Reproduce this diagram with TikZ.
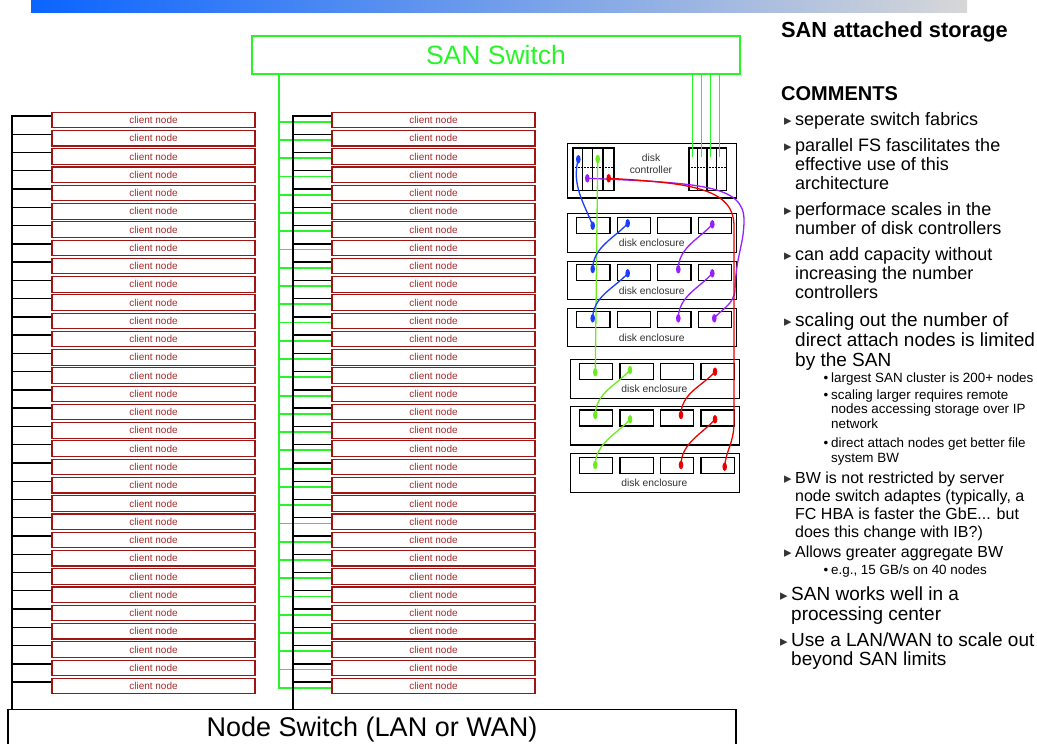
\documentclass[tikz,border=0pt]{standalone}
\usepackage{fontspec}
\setmainfont{Liberation Sans}
\newfontfamily\symfont{DejaVu Sans}
\usetikzlibrary{shapes.geometric,calc}
\definecolor{cnred}{RGB}{160,20,20}
\definecolor{cntext}{RGB}{165,40,40}
\definecolor{sangreen}{RGB}{40,245,40}
\definecolor{limegreen}{RGB}{110,235,30}
\definecolor{fcblue}{RGB}{25,60,255}
\definecolor{fcpurple}{RGB}{150,30,255}
\definecolor{fcred}{RGB}{235,0,0}
\definecolor{bannerblue}{RGB}{10,100,255}
\definecolor{bannergray}{RGB}{215,215,215}
\newcommand\fsz[2]{\fontsize{#1}{#2}\selectfont}
\newcommand\tri{\llap{{\symfont\fsz{15}{15}\textcolor{black!80}{▸}}\hspace{3.5pt}}}
\newcommand\sbul{\llap{•\hspace{3pt}}}
\begin{document}
\begin{tikzpicture}[x=1pt,y=-1pt,
  client/.style={draw=cnred,line width=1.1pt,text=cntext,font=\fsz{10}{11},
    minimum width=203pt,minimum height=15.5pt,inner sep=0pt},
  tickline/.style={line width=1.4pt,black},
  busline/.style={line width=2.4pt,black},
  sanline/.style={line width=1.8pt,sangreen},
  port/.style={draw,line width=1.2pt,inner sep=0pt,anchor=north west,minimum height=42.7pt},
  drive/.style={draw,line width=1.3pt,minimum width=33.3pt,minimum height=16pt,inner sep=0pt,anchor=north west},
  encl/.style={draw,line width=1.1pt,minimum width=168.7pt,minimum height=38.4pt,inner sep=0pt,anchor=north west},
  small/.style={font=\fsz{10.3}{12.3},text=black!80,inner sep=0pt},
  dot/.style={ellipse,fill=#1,minimum width=4.6pt,minimum height=8.5pt,inner sep=0pt},
  fc/.style={line width=1.3pt,#1},
  item/.style={anchor=base west,align=left,inner sep=0pt},
]
\path[use as bounding box] (0,0) rectangle (1037,744);
\clip (0,0) rectangle (1037,744);

% title banner
\shade[left color=bannerblue,right color=bannergray] (31,0) rectangle (967,12);

% switches
\node[draw=sangreen,line width=1.6pt,minimum width=488pt,minimum height=38pt,inner sep=0pt,
  text=sangreen,font=\fsz{26.5}{30}] (san) at (496,55) {SAN Switch};
\node[draw,line width=1.2pt,minimum width=728pt,minimum height=40pt,inner sep=0pt,
  font=\fsz{27}{30},anchor=north] (ns) at (372,709) {Node Switch (LAN or WAN)};

% client nodes with their LAN and SAN taps
\foreach \i in {0,...,31}{
  \pgfmathsetmacro\yc{120+18.26*\i}
  \node[client] (L\i) at (153.5,\yc) {client node};
  \node[client] (R\i) at (433.5,\yc) {client node};
  \draw[tickline] ([yshift=4pt]L\i.west) -- +(-40,0);
  \draw[tickline] ([yshift=4pt]R\i.west) -- +(-39,0);
  \draw[sanline] ([yshift=-1.7pt]R\i.west) -- +(-53,0);
}
\draw[busline] (12,115) -- (12,709);
\draw[busline] (293,115) -- (293,709);
\draw[sanline] (279,74) -- (279,688);

% disk controller
\node[draw,line width=1.2pt,minimum width=169.3pt,minimum height=54.6pt,inner sep=0pt,anchor=north west] (ctl) at (566.7,142.7) {};
\node[small,align=center] (ctltext) at (651,164) {disk\\controller};
\node[port,minimum width=41pt] (pl) at (572.3,147.3) {};
\node[port,minimum width=37.4pt] (pr) at (688.3,147.3) {};
\foreach \x in {582.7,592.7,603,697.7,707,716.3}
  \draw[line width=1.2pt] (\x,147.3) -- (\x,190);
\draw[dash pattern=on 1.5pt off 1.5pt,line width=0.8pt] (572.3,167.7) -- (613.3,167.7);
\draw[dash pattern=on 1.5pt off 1.5pt,line width=0.8pt] (688.3,167.7) -- (725.7,167.7);
\foreach \x in {692.7,701.7,710.7,719.3}
  \draw[line width=1.3pt,sangreen] (\x,74) -- (\x,156.7);

% disk enclosures
\foreach \n/\x/\y/\lab in {1/567.3/213.3/1,2/567.3/260.7/1,3/567.3/307.7/1,4/570/359.3/1,5/570/406/0,6/570/453.3/1}{
  \node[encl] (E\n) at (\x,\y) {};
  \foreach \k in {1,...,4}
    \node[drive] (E\n-\k) at ({\x+8.7+40.5*(\k-1)},{\y+3.4}) {};
  \ifnum\lab=1
    \node[small] (E\n-lab) at ({\x+84.4},{\y+30}) {disk enclosure};
  \fi
}

% attachment points
\coordinate (cb) at (578.3,159.3);
\coordinate (cg) at (597.7,159);
\coordinate (cp) at (587.3,178.3);
\coordinate (cr) at (608.7,178.3);
\coordinate (b11) at (592.7,225.7);
\coordinate (b12) at (627.7,223.3);
\coordinate (p14) at (712.3,224.3);
\coordinate (b21) at (592.7,269);
\coordinate (b22) at (627.7,273.3);
\coordinate (p23) at (678.3,269.3);
\coordinate (p24) at (712.3,273.3);
\coordinate (b31) at (592.7,318.3);
\coordinate (p33) at (678.3,318.3);
\coordinate (p34) at (714.3,318.3);
\coordinate (g41) at (595.3,372.3);
\coordinate (g42) at (630,370);
\coordinate (r44) at (715,371.7);
\coordinate (g51) at (595.3,415);
\coordinate (g52) at (630,419.3);
\coordinate (r53) at (681,415);
\coordinate (r54) at (715,419.3);
\coordinate (g61) at (595.3,465);
\coordinate (r63) at (681,465);
\coordinate (r64) at (724.7,466.7);

% fibre channel loops
\draw[fc=fcblue] (cb) .. controls (571,185) and (585,205) .. (b11);
\draw[fc=fcpurple] (cp) .. controls (700,183) and (744,185) .. (744,220)
  .. controls (744,245) and (736,255) .. (735,290)
  .. controls (734,305) and (720,310) .. (p34);
\draw[fc=fcred] (cr) .. controls (690,183) and (733,188) .. (734,225) -- (734,425)
  .. controls (733,445) and (726,450) .. (r64);
\draw[fc=limegreen] (cg) -- (g41);
\foreach \a/\b/\c in {b12/b21/fcblue,b22/b31/fcblue,p14/p23/fcpurple,p24/p33/fcpurple,
                      g42/g51/limegreen,g52/g61/limegreen,r44/r53/fcred,r54/r63/fcred}
  \draw[fc=\c] (\a) .. controls ($(\a)+(-12,14)$) and ($(\b)+(0,-22)$) .. (\b);

% dots on top
\foreach \p/\c in {cb/fcblue,cg/limegreen,cp/fcpurple,cr/fcred,b11/fcblue,b12/fcblue,p14/fcpurple,
  b21/fcblue,b22/fcblue,p23/fcpurple,p24/fcpurple,b31/fcblue,p33/fcpurple,p34/fcpurple,
  g41/limegreen,g42/limegreen,r44/fcred,g51/limegreen,g52/limegreen,r53/fcred,r54/fcred,
  g61/limegreen,r63/fcred,r64/fcred}
  \node[dot=\c] (d-\p) at (\p) {};

% comments (multi-line nodes are placed by the baseline of their last line)
\node[font=\bfseries\fsz{21.8}{24},anchor=base west,inner sep=0pt] (title) at (781,37.5) {SAN attached storage};
\node[font=\bfseries\fsz{20}{24},anchor=base west,inner sep=0pt] (comments) at (781,100) {COMMENTS};
\node[item,font=\fsz{18}{19}] (c1) at (795,125.5) {\tri seperate switch fabrics};
\node[item,font=\fsz{18}{19}] (c2) at (795,189.5) {\tri parallel FS fascilitates the\\effective use of this\\architecture};
\node[item,font=\fsz{18}{19}] (c3) at (795,234.5) {\tri performace scales in the\\number of disk controllers};
\node[item,font=\fsz{18}{19}] (c4) at (795,298.5) {\tri can add capacity without\\increasing the number\\controllers};
\node[item,font=\fsz{19}{20}] (c5) at (795,366) {\tri scaling out the number of\\direct attach nodes is limited\\by the SAN};
\node[item,font=\fsz{13.4}{14.5}] (s1) at (831,382) {\sbul largest SAN cluster is 200+ nodes};
\node[item,font=\fsz{13.4}{14.5}] (s2) at (831,428) {\sbul scaling larger requires remote\\nodes accessing storage over IP\\network};
\node[item,font=\fsz{13.4}{15}] (s3) at (831,462) {\sbul direct attach nodes get better file\\system BW};
\node[item,font=\fsz{16}{18}] (c6) at (795,537) {\tri BW is not restricted by server\\node switch adaptes (typically, a\\FC HBA is faster the GbE... but\\does this change with IB?)};
\node[item,font=\fsz{16}{18}] (c7) at (795,557) {\tri Allows greater aggregate BW};
\node[item,font=\fsz{13.4}{14.5}] (s4) at (831,574) {\sbul e.g., 15 GB/s on 40 nodes};
\node[item,font=\fsz{19}{20}] (c8) at (791,620) {\tri SAN works well in a\\processing center};
\node[item,font=\fsz{19}{19}] (c9) at (791,665) {\tri Use a LAN/WAN to scale out\\beyond SAN limits};
\end{tikzpicture}
\end{document}
